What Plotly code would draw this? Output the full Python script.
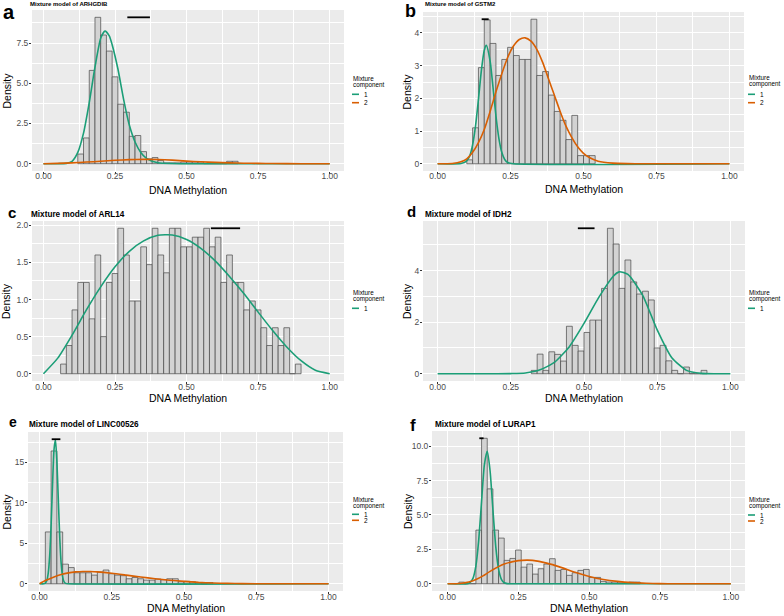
import plotly.graph_objects as go

W, H = 784, 616
GREEN = '#1B9E77'
ORANGE = '#D95F02'
FONT = 'Liberation Sans, Arial, sans-serif'
BIN_W = 0.02

genes = ['ARHGDIB', 'GSTM2', 'ARL14', 'IDH2', 'LINC00526', 'LURAP1']
panel_letters = ['a', 'b', 'c', 'd', 'e', 'f']
component_names = ['1', '2']

x_ticks = [0, 0.25, 0.5, 0.75, 1.0]
x_tick_labels = ['0.00', '0.25', '0.50', '0.75', '1.00']

# histogram densities (bins of width 0.02, first bin left edge given)
a_bin_start = 0.12
a_density = [0.6, 1.6, 5.8, 9.1, 8.0, 7.0, 5.4, 3.7, 3.2, 1.7, 1.75, 0.75, 0.3, 0.38, 0.2,
             0.05, 0.05, 0.05, 0.1, 0.1, 0.1, 0.1, 0, 0, 0, 0, 0.15, 0.15]
b_bin_start = 0.10
b_density = [0.12, 1.1, 2.94, 4.4, 3.68, 2.7, 3.19, 3.56, 3.31, 3.19, 3.19, 4.42, 2.7, 2.82,
             2.1, 1.6, 1.33, 0.74, 1.48, 0.25, 0.25, 0.25]
c_bin_start = 0.06
c_density = [0.13, 0.38, 0.86, 1.23, 1.23, 0.74, 1.6, 0.5, 1.23, 1.35, 1.96, 1.6, 0.98, 0.98,
             1.71, 1.47, 1.96, 1.6, 1.36, 1.96, 1.96, 1.71, 1.71, 1.84, 1.84, 1.96, 1.71, 1.84,
             1.23, 1.6, 1.23, 1.23, 0.86, 0.98, 0.86, 0.62, 0.38, 0.62, 0.38, 0.62, 0, 0.13]
d_bin_start = 0.32
d_density = [0.13, 0.76, 0.13, 0.85, 0.75, 0.49, 1.84, 1.1, 0.88, 1.6, 2.08, 2.08, 3.31, 5.64,
             5.03, 3.31, 4.41, 3.56, 3.09, 3.2, 2.86, 1.0, 1.1, 0.5, 0.13, 0, 0.26, 0, 0, 0.13]
e_bin_start = 0.02
e_density = [6.4, 16.4, 6.4, 2.43, 2.0, 1.36, 1.36, 1.36, 1.07, 1.45, 1.7, 1.24, 1.07, 1.0,
             0.62, 0.78, 0.62, 0.45, 0.45, 0.58, 0.5, 0.62, 0.62, 0.25, 0.3, 0.25, 0.12, 0, 0.15]
f_bin_start = 0.04
f_density = [0.12, 0, 0, 3.9, 10.58, 6.9, 3.9, 3.32, 1.7, 1.84, 2.45, 1.21, 1.43, 0.7, 1.09,
             1.43, 1.82, 0.97, 1.04, 0.61, 0.8, 0.97, 1.04, 0.46, 0.46, 0.17, 0.12, 0.12, 0.07,
             0.07, 0.12, 0.12]

# mixture component curves
a_c1_x = [0, 0.05, 0.08, 0.10, 0.12, 0.14, 0.16, 0.18, 0.20, 0.215, 0.23, 0.24, 0.26, 0.28,
          0.30, 0.32, 0.34, 0.36, 0.38, 0.40, 0.45, 0.5, 1.0]
a_c1_y = [0, 0, 0.02, 0.15, 0.7, 1.9, 3.8, 6.0, 7.8, 8.25, 7.95, 7.4, 5.9, 4.0,
          2.4, 1.35, 0.7, 0.33, 0.15, 0.06, 0.01, 0, 0]
a_c2_x = [0, 0.05, 0.1, 0.15, 0.2, 0.25, 0.3, 0.35, 0.4, 0.45, 0.5, 0.55, 0.6, 0.65, 0.7,
          0.75, 0.8, 0.9, 1.0]
a_c2_y = [0, 0.02, 0.05, 0.1, 0.15, 0.21, 0.25, 0.27, 0.26, 0.22, 0.16, 0.12, 0.08, 0.05,
          0.03, 0.02, 0.01, 0, 0]

b_c1_x = [0, 0.08, 0.10, 0.11, 0.12, 0.13, 0.14, 0.15, 0.16, 0.167, 0.18, 0.19, 0.20, 0.21,
          0.22, 0.23, 0.24, 0.26, 1.0]
b_c1_y = [0, 0.01, 0.09, 0.24, 0.58, 1.16, 1.97, 2.85, 3.47, 3.62, 3.14, 2.33, 1.46, 0.78,
          0.35, 0.13, 0.04, 0, 0]
b_c2_x = [0, 0.05, 0.08, 0.10, 0.12, 0.14, 0.16, 0.18, 0.20, 0.22, 0.24, 0.26, 0.28, 0.30,
          0.32, 0.34, 0.36, 0.38, 0.40, 0.42, 0.44, 0.46, 0.48, 0.50, 0.52, 0.55, 0.60, 0.65,
          0.70, 1.0]
b_c2_y = [0, 0.01, 0.06, 0.15, 0.35, 0.65, 1.05, 1.6, 2.2, 2.75, 3.25, 3.6, 3.8, 3.85,
          3.75, 3.5, 3.1, 2.6, 2.1, 1.6, 1.15, 0.8, 0.52, 0.32, 0.19, 0.08, 0.02, 0.005,
          0, 0]

c_c1_x = [0, 0.05, 0.1, 0.15, 0.2, 0.25, 0.3, 0.35, 0.4, 0.45, 0.5, 0.55, 0.6, 0.65, 0.7,
          0.75, 0.8, 0.85, 0.9, 0.95, 1.0]
c_c1_y = [0, 0.21, 0.52, 0.86, 1.17, 1.44, 1.65, 1.79, 1.865, 1.87, 1.81, 1.69, 1.52, 1.31,
          1.08, 0.83, 0.585, 0.36, 0.175, 0.047, 0]

d_c1_x = [0, 0.2, 0.25, 0.30, 0.35, 0.40, 0.45, 0.50, 0.55, 0.60, 0.62, 0.65, 0.70, 0.75,
          0.80, 0.85, 0.90, 0.95, 1.0]
d_c1_y = [0, 0, 0.005, 0.03, 0.15, 0.45, 1.05, 1.95, 2.95, 3.78, 3.95, 3.85, 3.05, 1.7,
          0.62, 0.13, 0.015, 0, 0]

e_c1_x = [0, 0.015, 0.02, 0.025, 0.03, 0.035, 0.04, 0.045, 0.05, 0.055, 0.06, 0.065, 0.07,
          0.075, 0.08, 0.085, 0.09, 0.1, 1.0]
e_c1_y = [0, 0, 0.09, 0.39, 1.31, 3.45, 7.32, 12.3, 16.55, 17.8, 15.1, 10.3, 5.57,
          2.41, 0.83, 0.23, 0.05, 0, 0]
e_c2_x = [0, 0.02, 0.05, 0.075, 0.10, 0.125, 0.15, 0.175, 0.20, 0.25, 0.30, 0.35, 0.40,
          0.45, 0.50, 0.55, 0.60, 0.65, 0.70, 0.80, 0.90, 1.0]
e_c2_y = [0, 0.4, 0.85, 1.15, 1.35, 1.47, 1.52, 1.51, 1.47, 1.3, 1.07, 0.83, 0.62,
          0.44, 0.3, 0.17, 0.09, 0.045, 0.02, 0.003, 0, 0]

f_c1_x = [0, 0.07, 0.08, 0.09, 0.10, 0.11, 0.12, 0.13, 0.14, 0.15, 0.16, 0.17, 0.18, 0.19,
          0.20, 0.21, 0.22, 1.0]
f_c1_y = [0, 0, 0.1, 0.41, 1.3, 3.19, 6.0, 8.67, 9.63, 8.22, 5.4, 2.72, 1.06, 0.32,
          0.07, 0.01, 0, 0]
f_c2_x = [0, 0.03, 0.05, 0.075, 0.10, 0.125, 0.15, 0.20, 0.25, 0.28, 0.30, 0.35, 0.40,
          0.45, 0.50, 0.55, 0.60, 0.65, 0.70, 0.75, 0.80, 1.0]
f_c2_y = [0, 0, 0.03, 0.12, 0.3, 0.57, 0.9, 1.43, 1.68, 1.72, 1.7, 1.5, 1.19,
          0.83, 0.53, 0.31, 0.17, 0.08, 0.03, 0.01, 0, 0]

# black horizontal bars at the top of each panel: (x start, x end, height)
a_bar = (0.293, 0.372, 9.1)
b_bar = (0.151, 0.175, 4.42)
c_bar = (0.585, 0.687, 1.96)
d_bar = (0.479, 0.536, 5.64)
e_bar = (0.042, 0.072, 17.85)
f_bar = (0.112, 0.127, 10.58)

a_y_ticks = [0, 2.5, 5, 7.5]
b_y_ticks = [0, 1, 2, 3, 4]
c_y_ticks = [0, 0.5, 1.0, 1.5, 2.0]
d_y_ticks = [0, 2, 4]
e_y_ticks = [0, 5, 10, 15]
f_y_ticks = [0, 2.5, 5, 7.5, 10]

# letter: (x, y, anchor, size); legend: (x, title line 1 y, title line 2 y, key ys)
panels = [
    dict(start=a_bin_start, dens=a_density, comps=[(a_c1_x, a_c1_y), (a_c2_x, a_c2_y)],
         bar=a_bar, yt=a_y_ticks, yfmt='{:.1f}', xstand=-5,
         box=(32, 344, 10, 171), xr=(-0.04, 1.05), title_xy=(28, 4.5), tsize=6,
         letter=(9, -3, 'top', 20), xtitle_y=190, ytitle_x=7,
         leg=(352, 78.3, 85, [94.3, 102.7])),
    dict(start=b_bin_start, dens=b_density, comps=[(b_c1_x, b_c1_y), (b_c2_x, b_c2_y)],
         bar=b_bar, yt=b_y_ticks, yfmt='{:.0f}', xstand=-5,
         box=(423, 744, 12, 171), xr=(-0.05, 1.05), title_xy=(423, 4.5), tsize=6,
         letter=(410, -2, 'top', 18), xtitle_y=189, ytitle_x=407,
         leg=(748, 77.7, 84.3, [94.3, 102.7])),
    dict(start=c_bin_start, dens=c_density, comps=[(c_c1_x, c_c1_y)],
         bar=c_bar, yt=c_y_ticks, yfmt='{:.1f}', xstand=-4,
         box=(32, 344, 221, 381), xr=(-0.04, 1.05), title_xy=(29, 214.5), tsize=8.2,
         letter=(11.5, 213, 'middle', 15), xtitle_y=398, ytitle_x=6,
         leg=(352, 292.7, 299.3, [308.3])),
    dict(start=d_bin_start, dens=d_density, comps=[(d_c1_x, d_c1_y)],
         bar=d_bar, yt=d_y_ticks, yfmt='{:.0f}', xstand=-4,
         box=(423, 745, 221, 381), xr=(-0.05, 1.05), title_xy=(423, 214.5), tsize=8.2,
         letter=(411, 212, 'middle', 15), xtitle_y=398, ytitle_x=407,
         leg=(748, 292.7, 299.3, [308.3])),
    dict(start=e_bin_start, dens=e_density, comps=[(e_c1_x, e_c1_y), (e_c2_x, e_c2_y)],
         bar=e_bar, yt=e_y_ticks, yfmt='{:.0f}', xstand=-4,
         box=(28, 343, 432, 591), xr=(-0.04, 1.05), title_xy=(27, 424), tsize=8.2,
         letter=(13.5, 422, 'middle', 14), xtitle_y=608, ytitle_x=6,
         leg=(352, 499, 506, [514.3, 520.3])),
    dict(start=f_bin_start, dens=f_density, comps=[(f_c1_x, f_c1_y), (f_c2_x, f_c2_y)],
         bar=f_bar, yt=f_y_ticks, yfmt='{:.1f}', xstand=-4,
         box=(432, 745, 431, 591), xr=(-0.055, 1.05), title_xy=(433, 424), tsize=8.2,
         letter=(412.5, 425, 'middle', 17), xtitle_y=608, ytitle_x=408,
         leg=(748, 499, 506, [515, 521])),
]


def px(x):
    return x / W


def py(y):
    return 1 - y / H


fig = go.Figure()
annotations = []
shapes = []
colors = [GREEN, ORANGE]

for i, p in enumerate(panels):
    n = '' if i == 0 else str(i + 1)
    xa, ya = 'x' + n, 'y' + n
    edges = [p['start'] + BIN_W * k for k in range(len(p['dens']))]
    fig.add_trace(go.Bar(
        x=edges, y=p['dens'], width=BIN_W, offset=0,
        marker=dict(color='#D3D3D3', line=dict(color='#474747', width=0.7)),
        xaxis=xa, yaxis=ya, showlegend=False, hoverinfo='skip'))
    for j, (cx, cy) in enumerate(p['comps']):
        fig.add_trace(go.Scatter(
            x=cx, y=cy, mode='lines', name=component_names[j],
            line=dict(color=colors[j], width=1.6, shape='spline', smoothing=0.6),
            xaxis=xa, yaxis=ya, showlegend=False))
    bx0, bx1, by = p['bar']
    fig.add_trace(go.Scatter(
        x=[bx0, bx1], y=[by, by], mode='lines',
        line=dict(color='black', width=1.8),
        xaxis=xa, yaxis=ya, showlegend=False))

    ymax = max([max(p['dens']), by] + [max(cy) for _, cy in p['comps']])
    x0, x1, y0, y1 = p['box']
    tick_font = dict(family=FONT, size=8.5, color='#4D4D4D')
    fig.layout['xaxis' + n] = dict(
        domain=[px(x0), px(x1)], range=list(p['xr']), anchor=ya,
        tickvals=x_ticks, ticktext=x_tick_labels, ticks='outside', ticklen=2,
        tickwidth=0.7, tickcolor='#333333', tickfont=tick_font,
        ticklabelstandoff=p['xstand'],
        showgrid=True, gridcolor='white', gridwidth=1, zeroline=False, showline=False,
        minor=dict(dtick=0.125, tick0=0, showgrid=True, gridcolor='white', gridwidth=0.5,
                   ticks=''))
    step = p['yt'][1] - p['yt'][0]
    fig.layout['yaxis' + n] = dict(
        domain=[py(y1), py(y0)], range=[-0.05 * ymax, 1.05 * ymax], anchor=xa,
        tickvals=p['yt'], ticktext=[p['yfmt'].format(v) for v in p['yt']],
        ticks='outside', ticklen=2, tickwidth=0.7, tickcolor='#333333', tickfont=tick_font,
        ticklabelstandoff=-1,
        showgrid=True, gridcolor='white', gridwidth=1, zeroline=False, showline=False,
        minor=dict(dtick=step / 2, tick0=0, showgrid=True, gridcolor='white',
                   gridwidth=0.5, ticks=''))

    # panel title and letter
    tx, ty = p['title_xy']
    annotations.append(dict(
        text='<b>Mixture model of %s</b>' % genes[i], x=px(tx), y=py(ty),
        xref='paper', yref='paper', xanchor='left', yanchor='middle', showarrow=False,
        font=dict(family=FONT, size=p['tsize'], color='black')))
    lx, ly, lanchor, lsize = p['letter']
    annotations.append(dict(
        text='<b>%s</b>' % panel_letters[i], x=px(lx), y=min(1.0, py(ly)),
        xref='paper', yref='paper', xanchor='center', yanchor=lanchor, showarrow=False,
        borderpad=0, font=dict(family=FONT, size=lsize, color='black')))
    # axis titles
    annotations.append(dict(
        text='DNA Methylation', x=px((x0 + x1) / 2), y=py(p['xtitle_y']),
        xref='paper', yref='paper', xanchor='center', yanchor='middle', showarrow=False,
        font=dict(family=FONT, size=10.5, color='black')))
    annotations.append(dict(
        text='Density', x=px(p['ytitle_x']), y=py((y0 + y1) / 2), textangle=-90,
        xref='paper', yref='paper', xanchor='center', yanchor='middle', showarrow=False,
        font=dict(family=FONT, size=10.5, color='black')))
    # legend
    gx, t1, t2, keys = p['leg']
    for txt, yy in (('Mixture', t1), ('component', t2)):
        annotations.append(dict(
            text=txt, x=px(gx), y=py(yy), xref='paper', yref='paper',
            xanchor='left', yanchor='middle', showarrow=False, borderpad=0,
            font=dict(family=FONT, size=6.3, color='black')))
    for j, yy in enumerate(keys):
        shapes.append(dict(
            type='line', xref='paper', yref='paper', x0=px(gx), x1=px(gx + 7),
            y0=py(yy), y1=py(yy), line=dict(color=colors[j], width=1.6)))
        annotations.append(dict(
            text=component_names[j], x=px(gx + 10), y=py(yy), xref='paper', yref='paper',
            xanchor='left', yanchor='middle', showarrow=False,
            font=dict(family=FONT, size=6.5, color='black')))

fig.update_layout(
    width=W, height=H, margin=dict(l=0, r=0, t=0, b=0),
    paper_bgcolor='white', plot_bgcolor='#EBEBEB',
    showlegend=False, barmode='overlay',
    annotations=annotations, shapes=shapes,
    font=dict(family=FONT),
)

fig.write_html("out.html", config={'displayModeBar': False},
               post_script="document.body.style.margin='0';"
                           "document.body.style.overflow='hidden';")
